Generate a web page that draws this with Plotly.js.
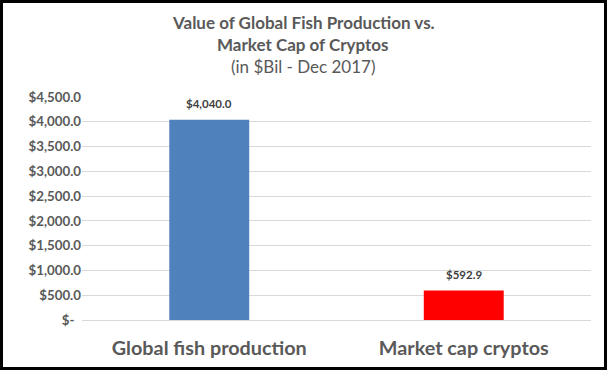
<!DOCTYPE html>
<html>
<head>
<meta charset="utf-8">
<script src="https://cdn.plot.ly/plotly-3.0.1.min.js"></script>
<style>
  html, body { margin: 0; padding: 0; background: #fff; }
  #wrap { position: relative; width: 607px; height: 370px; }
  #chart { width: 607px; height: 370px; }
  #frame { position: absolute; left: 0; top: 0; width: 607px; height: 370px; box-sizing: border-box; border: 3px solid #000; pointer-events: none; }
</style>
</head>
<body>
<div id="wrap"><div id="chart"></div><div id="frame"></div></div>
<script>
const categories = ["Global fish production", "Market cap cryptos"];
const values = [4040.0, 592.9];
const barColors = ["#4F81BD", "#FF0000"];
const tickVals = [0, 500, 1000, 1500, 2000, 2500, 3000, 3500, 4000, 4500];
const tickText = ["$-\u00a0\u00a0", "$500.0", "$1,000.0", "$1,500.0", "$2,000.0", "$2,500.0", "$3,000.0", "$3,500.0", "$4,000.0", "$4,500.0"];
const titleLines = ["Value of Global Fish Production vs.", "Market Cap of Cryptos", "(in $Bil - Dec 2017)"];

const FONT = "Lato, 'Open Sans', sans-serif";
const GREY = "#595959";

function fmt(v) {
  return "$" + v.toLocaleString("en-US", {minimumFractionDigits: 1, maximumFractionDigits: 1});
}

const W = 607, H = 370, L = 82, R = 16, T = 97, B = 50;
const plotH = H - T - B, plotW = W - L - R;
function py(yPix) { return (H - B - yPix) / plotH; }
function px(xPix) { return (xPix - L) / plotW; }

const titleSpecs = [
  {text: "<b>" + titleLines[0] + "</b>", y: 22.4},
  {text: "<b>" + titleLines[1] + "</b>", y: 44.8},
  {text: titleLines[2], y: 66.8}
];
const annotations = titleSpecs.map(a => ({
  text: a.text, xref: "paper", yref: "paper", x: px(303), y: py(a.y),
  xanchor: "center", yanchor: "middle", showarrow: false,
  font: {family: FONT, size: 17, color: GREY}
}));

categories.forEach((c, i) => {
  annotations.push({
    text: "<b>" + fmt(values[i]) + "</b>", x: c, y: values[i], xref: "x", yref: "y",
    xanchor: "center", yanchor: "bottom", yshift: 7.5, showarrow: false,
    font: {family: FONT, size: 11.5, color: "#404040"}
  });
});

const data = [{
  type: "bar",
  x: categories,
  y: values,
  marker: {color: barColors},
  hoverinfo: "none"
}];

const layout = {
  width: W, height: H,
  margin: {l: L, r: R, t: T, b: B},
  paper_bgcolor: "#fff", plot_bgcolor: "#fff",
  bargap: 0.686,
  showlegend: false,
  xaxis: {
    tickfont: {family: FONT, size: 19.8, color: GREY, weight: "bold"},
    showgrid: false, zeroline: false, showline: false, ticks: "",
    ticklabelstandoff: 14, automargin: false,
    fixedrange: true
  },
  yaxis: {
    range: [0, 4500],
    tickvals: tickVals, ticktext: tickText,
    tickfont: {family: FONT, size: 13.3, color: GREY, weight: "bold"},
    showgrid: true, gridcolor: "#d9d9d9", gridwidth: 1,
    zeroline: true, zerolinecolor: "#d9d9d9", zerolinewidth: 1,
    showline: false, ticks: "", ticklabelstandoff: 15.5, automargin: false,
    fixedrange: true
  },
  annotations: annotations
};

Plotly.newPlot("chart", data, layout, {displayModeBar: false, staticPlot: true});
</script>
</body>
</html>
